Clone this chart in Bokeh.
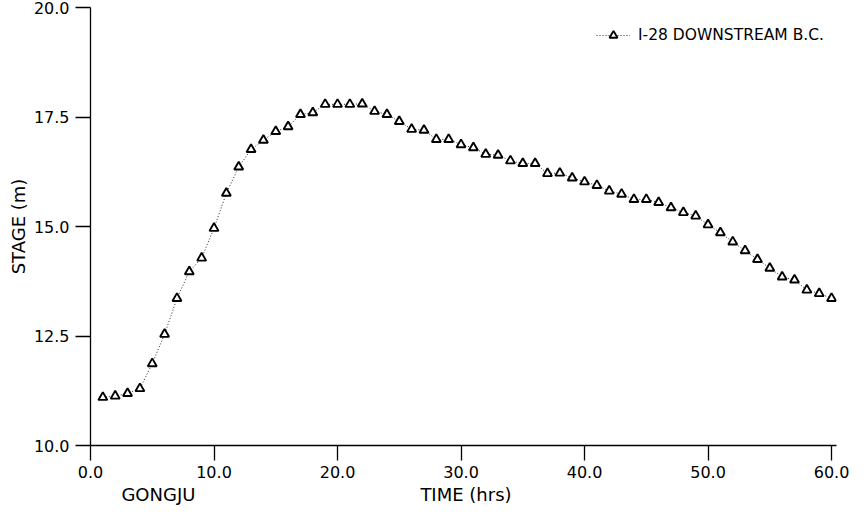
from bokeh.plotting import figure
from bokeh.models import (FixedTicker, PrintfTickFormatter, Legend, LegendItem,
                          LinearAxis, Range1d, ColumnDataSource)
from bokeh.embed import file_html
from bokeh.resources import INLINE

# ---- data ----
time_hrs = [1, 2, 3, 4, 5, 6, 7, 8, 9, 10,
            11, 12, 13, 14, 15, 16, 17, 18, 19, 20,
            21, 22, 23, 24, 25, 26, 27, 28, 29, 30,
            31, 32, 33, 34, 35, 36, 37, 38, 39, 40,
            41, 42, 43, 44, 45, 46, 47, 48, 49, 50,
            51, 52, 53, 54, 55, 56, 57, 58, 59, 60]
stage_m = [11.10, 11.13, 11.19, 11.30, 11.87, 12.54, 13.36, 13.97, 14.28, 14.96,
           15.76, 16.36, 16.76, 16.97, 17.17, 17.28, 17.56, 17.60, 17.79, 17.79,
           17.79, 17.80, 17.63, 17.56, 17.40, 17.22, 17.20, 16.99, 16.99, 16.87,
           16.80, 16.65, 16.63, 16.50, 16.44, 16.44, 16.21, 16.22, 16.11, 16.02,
           15.94, 15.81, 15.74, 15.62, 15.62, 15.55, 15.43, 15.32, 15.24, 15.04,
           14.86, 14.65, 14.45, 14.25, 14.05, 13.85, 13.78, 13.55, 13.47, 13.36]
x_ticks = [0, 10, 20, 30, 40, 50, 60]
y_ticks = [10.0, 12.5, 15.0, 17.5, 20.0]
series_label = "I-28 DOWNSTREAM B.C."
station_label = "GONGJU"
x_title = "TIME (hrs)"
y_title = "STAGE (m)"
# where the two captions under the time axis are centred (hours)
station_label_at = 5.5
x_title_at = 30.4

FONT = "DejaVu Sans"

src = ColumnDataSource(dict(t=time_hrs, s=stage_m))

p = figure(frame_width=746, frame_height=438,
           min_border_left=90, min_border_right=15,
           min_border_top=7, min_border_bottom=64,
           x_range=Range1d(0, 60.4), y_range=Range1d(10, 20),
           output_backend="svg", toolbar_location=None,
           background_fill_color="white", border_fill_color="white")
p.outline_line_color = None
p.grid.visible = False

line_r = p.line("t", "s", source=src, line_color="black", line_width=1,
                line_dash="1 2", line_alpha=0.85)
pts_r = p.scatter("t", "s", source=src, marker="triangle", size=9,
                  fill_color="white", line_color="black", line_width=1.9)

# axes styling
for ax in (p.xaxis[0], p.yaxis[0]):
    ax.axis_line_color = "black"
    ax.axis_line_width = 1.3
    ax.major_tick_line_color = "black"
    ax.major_tick_line_width = 1.3
    ax.major_tick_in = 0
    ax.major_tick_out = 15
    ax.minor_tick_line_color = None
    ax.major_label_text_font = FONT
    ax.major_label_text_font_size = "16px"
    ax.major_label_text_color = "black"
    ax.axis_label_text_font = FONT
    ax.axis_label_text_font_size = "18px"
    ax.axis_label_text_font_style = "normal"
    ax.axis_label_text_color = "black"
    ax.formatter = PrintfTickFormatter(format="%.1f")

p.xaxis.ticker = FixedTicker(ticks=x_ticks)
p.yaxis.ticker = FixedTicker(ticks=y_ticks)
p.yaxis.axis_label = y_title
p.xaxis.major_label_standoff = 5
p.yaxis.major_label_standoff = 6
p.yaxis.axis_label_standoff = 2

# caption row under the time axis: "GONGJU" and the axis title side by side
cap = LinearAxis(ticker=FixedTicker(ticks=[station_label_at, x_title_at]),
                 major_label_overrides={station_label_at: station_label,
                                        x_title_at: x_title})
cap.axis_line_color = None
cap.major_tick_line_color = None
cap.minor_tick_line_color = None
cap.major_tick_in = 0
cap.major_tick_out = 0
cap.major_label_standoff = 3
cap.major_label_text_font = FONT
cap.major_label_text_font_size = "18px"
cap.major_label_text_color = "black"
p.add_layout(cap, "below")

legend = Legend(items=[LegendItem(label=series_label, renderers=[line_r, pts_r])],
                location=(506, 400), padding=0, margin=0, spacing=0,
                glyph_width=34, glyph_height=20, label_standoff=8,
                border_line_color=None, background_fill_alpha=0,
                label_text_font=FONT, label_text_font_size="15.5px",
                label_text_color="black")
p.add_layout(legend)

open("out.html", "w").write(file_html(p, INLINE))
